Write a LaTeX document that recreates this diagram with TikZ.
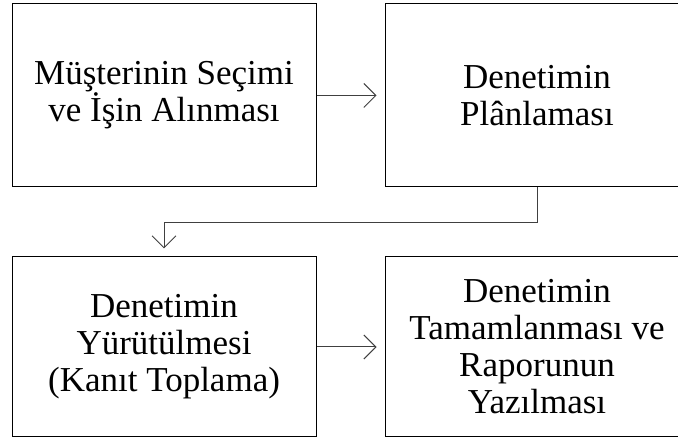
\documentclass[tikz,border=0pt]{standalone}
\usepackage{fontspec}
\setmainfont{Liberation Serif}
\usetikzlibrary{arrows.meta}
\begin{document}
\begin{tikzpicture}[x=1pt, y=-1pt,
  stage/.style={draw, line width=1pt, minimum width=304pt, minimum height=183pt,
    inner sep=0pt, align=center, font=\fontsize{35}{37}\selectfont},
  flow/.style={draw=black!75, line width=1pt,
    -{Straight Barb[length=12pt,width=24pt]}, shorten >=8pt}]
  \useasboundingbox (0,0) rectangle (678,438);
  % Top row
  \node[stage] (secim) at (164,95.5) {Müşterinin Seçimi\\ve İşin Alınması};
  \node[stage] (plan) at (537,95.5) {Denetimin\\Plânlaması};
  % Bottom row
  \node[stage, minimum height=180pt] (yurutme) at (164,347) {Denetimin\\Yürütülmesi\\(Kanıt Toplama)};
  \node[stage, minimum height=180pt] (rapor) at (537,347) {Denetimin\\Tamamlanması ve\\Raporunun\\Yazılması};
  % Connectors
  \draw[flow] (secim.east) -- (plan.west);
  \draw[flow] (plan.south) -- ++(0,35) -| (yurutme.north);
  \draw[flow] (yurutme.east) -- (rapor.west);
\end{tikzpicture}
\end{document}
